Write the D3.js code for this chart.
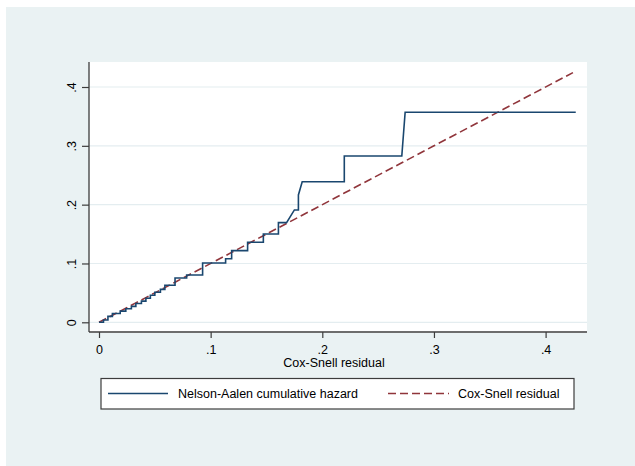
<!DOCTYPE html>
<html><head><meta charset="utf-8">
<script src="https://cdn.jsdelivr.net/npm/d3@7"></script>
<style>body{margin:0;background:#fff}svg{display:block}text{font-family:"Liberation Sans",Arial,sans-serif;fill:#000}</style>
</head><body><svg id="c" width="635" height="466"></svg>
<script>
// Nelson-Aalen cumulative hazard (vertices of the step line)
const naX = [0,0.004,0.004,0.008,0.008,0.012,0.012,0.019,0.019,0.024,0.024,0.029,0.029,0.033,0.033,0.038,0.038,0.042,0.042,0.046,0.046,0.050,0.050,0.055,0.055,0.059,0.059,0.0681,0.0681,0.0785,0.0785,0.0928,0.0928,0.1134,0.1134,0.1188,0.1188,0.1331,0.1331,0.1472,0.1472,0.1607,0.1607,0.168,0.175,0.1786,0.1786,0.182,0.2197,0.2197,0.2712,0.2742,0.427];
const naY = [0,0,0.004,0.004,0.010,0.010,0.015,0.015,0.019,0.019,0.023,0.023,0.027,0.027,0.032,0.032,0.036,0.036,0.041,0.041,0.046,0.046,0.051,0.051,0.056,0.056,0.063,0.063,0.0753,0.0753,0.0804,0.0804,0.1008,0.1008,0.108,0.108,0.1218,0.1218,0.136,0.136,0.150,0.150,0.1694,0.1694,0.191,0.191,0.2165,0.239,0.239,0.2828,0.2828,0.357,0.357];
// Cox-Snell residuals (plotted against themselves)
const csX = [0,0.004,0.008,0.012,0.019,0.024,0.029,0.033,0.038,0.042,0.046,0.050,0.055,0.059,0.0681,0.0785,0.0928,0.1134,0.1188,0.1331,0.1472,0.1607,0.168,0.175,0.1786,0.182,0.2197,0.2712,0.2742,0.3,0.33,0.36,0.39,0.4245];
const csY = csX.slice();
const xTicks = [0,0.1,0.2,0.3,0.4];
const yTicks = [0,0.1,0.2,0.3,0.4];
const tickLabel = d => d===0 ? "0" : ("." + Math.round(d*10));
const legendLabels = ["Nelson-Aalen cumulative hazard","Cox-Snell residual"];

const svg = d3.select("#c");
const blue = "#1a476f", red = "#90353b", bg = "#eaf2f3";
svg.append("rect").attr("x",6).attr("y",7).attr("width",629).attr("height",459).attr("fill",bg);

const L=89, R=587, T=62, B=332;
svg.append("rect").attr("x",L).attr("y",T).attr("width",R-L).attr("height",B-T+1).attr("fill","#fff");

const x = d3.scaleLinear().domain([0,0.4]).range([99,545.6]);
const y = d3.scaleLinear().domain([0,0.4]).range([322.3,87]);

// gridlines
svg.append("g").selectAll("line").data(yTicks).join("line")
  .attr("x1",L).attr("x2",R).attr("y1",d=>y(d)).attr("y2",d=>y(d))
  .attr("stroke","#e4edf0").attr("stroke-width",1.2);

// axes
const xa = svg.append("g").attr("transform",`translate(0,${B})`)
  .call(d3.axisBottom(x).tickValues(xTicks).tickFormat(tickLabel).tickSize(6).tickPadding(6).tickSizeOuter(0));
xa.select(".domain").attr("d",`M${L},0H${R}`).attr("stroke","#3c3c3c").attr("stroke-width",1.3);
xa.selectAll(".tick line").attr("stroke","#3c3c3c").attr("stroke-width",1.2);
xa.selectAll(".tick text").attr("font-size","12.5px").attr("font-family","Liberation Sans, Arial, sans-serif").attr("fill","#000").attr("dy","0.71em").attr("y",13);

const ya = svg.append("g").attr("transform",`translate(${L},0)`)
  .call(d3.axisLeft(y).tickValues(yTicks).tickFormat(tickLabel).tickSize(7).tickSizeOuter(0));
ya.select(".domain").attr("d",`M0,${T}V${B}`).attr("stroke","#3c3c3c").attr("stroke-width",1.3);
ya.selectAll(".tick line").attr("stroke","#3c3c3c").attr("stroke-width",1.2);
ya.selectAll(".tick text").attr("font-size","12.5px").attr("font-family","Liberation Sans, Arial, sans-serif").attr("fill","#000")
  .attr("x",null).attr("dy",null).attr("text-anchor","middle")
  .attr("transform","translate(-13,0) rotate(-90)").attr("y",0);

// x title
svg.append("text").attr("x",(L+R)/2-4).attr("y",367).attr("text-anchor","middle").attr("font-size","12.5px").text("Cox-Snell residual");

// lines
const naPts = naX.map((d,i)=>[d,naY[i]]);
const csPts = csX.map((d,i)=>[d,csY[i]]);
const line = d3.line().x(d=>x(d[0])).y(d=>y(d[1]));
svg.append("path").attr("d",line(csPts)).attr("fill","none").attr("stroke",red).attr("stroke-width",1.6).attr("stroke-dasharray","8,4");
svg.append("path").attr("d",line(naPts)).attr("fill","none").attr("stroke",blue).attr("stroke-width",1.6);

// legend
const lg = svg.append("g");
lg.append("rect").attr("x",101).attr("y",378.5).attr("width",473).attr("height",30.5).attr("fill","#fff").attr("stroke","#3c3c3c").attr("stroke-width",1.2);
const ly = 393.5;
lg.append("line").attr("x1",108).attr("x2",168).attr("y1",ly).attr("y2",ly).attr("stroke",blue).attr("stroke-width",1.6);
lg.append("text").attr("x",178).attr("y",ly+4.5).attr("font-size","12.5px").text(legendLabels[0]);
lg.append("line").attr("x1",388).attr("x2",449).attr("y1",ly).attr("y2",ly).attr("stroke",red).attr("stroke-width",1.6).attr("stroke-dasharray","8,4");
lg.append("text").attr("x",458).attr("y",ly+4.5).attr("font-size","12.5px").text(legendLabels[1]);
</script></body></html>
